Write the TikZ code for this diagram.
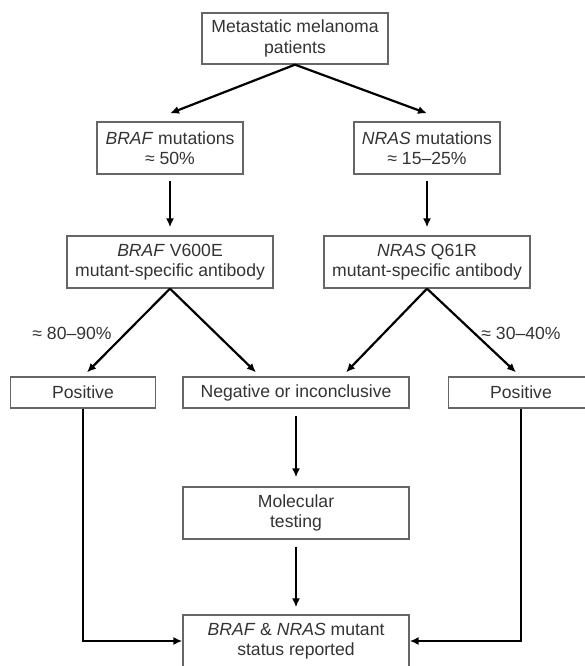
\documentclass[tikz,border=0pt]{standalone}
\usepackage{fontspec}
\setmainfont{Liberation Sans}
\usetikzlibrary{arrows.meta}
\definecolor{boxline}{HTML}{666666}
\definecolor{txt}{HTML}{333333}

\begin{document}
\begin{tikzpicture}[x=1pt,y=-1pt]
\tikzset{box/.style={draw=boxline,line width=1.3pt,inner sep=0pt,align=center,text=txt,font=\fontsize{17.6}{20.5}\selectfont}}
\tikzset{arr/.style={line width=2.2pt,-{Latex[length=9pt,width=8pt]}}}
\tikzset{pct/.style={text=txt,inner sep=0pt,font=\fontsize{17.6}{20.5}\selectfont}}
\useasboundingbox (0,0) rectangle (585,666);

\path (295,38.5) node[box,minimum width=186pt,minimum height=51pt] (pat) {Metastatic melanoma\\patients};
\path (170,148) node[box,minimum width=146pt,minimum height=52pt] (braf) {\textit{BRAF} mutations\\≈ 50\%};
\path (427,148) node[box,minimum width=146pt,minimum height=52pt] (nras) {\textit{NRAS} mutations\\≈ 15–25\%};
\path (170,262) node[box,minimum width=206pt,minimum height=52pt] (brafab) {\textit{BRAF} V600E\\mutant-specific antibody};
\path (427,262) node[box,minimum width=206pt,minimum height=52pt] (nrasab) {\textit{NRAS} Q61R\\mutant-specific antibody};
\path (83,392.5) node[box,minimum width=145pt,minimum height=31pt] (posl) {Positive};
\path (296,392.5) node[box,minimum width=226pt,minimum height=31pt] (neg) {Negative or inconclusive};
\path (521,392.5) node[box,minimum width=145pt,minimum height=31pt] (posr) {Positive};
\path (296,513) node[box,minimum width=226pt,minimum height=52pt] (mol) {Molecular\\testing};
\path (296,641) node[box,minimum width=226pt,minimum height=52pt] (res) {\textit{BRAF} \& \textit{NRAS} mutant\\status reported};
\path (72,333) node[pct] (lbraf) {≈ 80–90\%};
\path (521,333) node[pct] (lnras) {≈ 30–40\%};

\draw[arr] (pat.south) -- ([yshift=8pt]braf.north);
\draw[arr] (pat.south) -- ([yshift=8pt]nras.north);
\draw[arr,shorten <=6pt] (braf.south) -- ([yshift=8pt]brafab.north);
\draw[arr,shorten <=6pt] (nras.south) -- ([yshift=8pt]nrasab.north);
\draw[arr] (brafab.south) -- ([xshift=4pt,yshift=4pt]posl.north);
\draw[arr] (brafab.south) -- ([xshift=-40pt,yshift=4pt]neg.north);
\draw[arr] (nrasab.south) -- ([xshift=50pt,yshift=4pt]neg.north);
\draw[arr] (nrasab.south) -- ([xshift=-5pt,yshift=4pt]posr.north);
\draw[arr,shorten <=7pt] (neg.south) -- ([yshift=9pt]mol.north);
\draw[arr,shorten <=7pt] (mol.south) -- ([yshift=7pt]res.north);
\draw[arr] (posl.south) |- (res.west);
\draw[arr] (posr.south) |- (res.east);
\end{tikzpicture}
\end{document}
